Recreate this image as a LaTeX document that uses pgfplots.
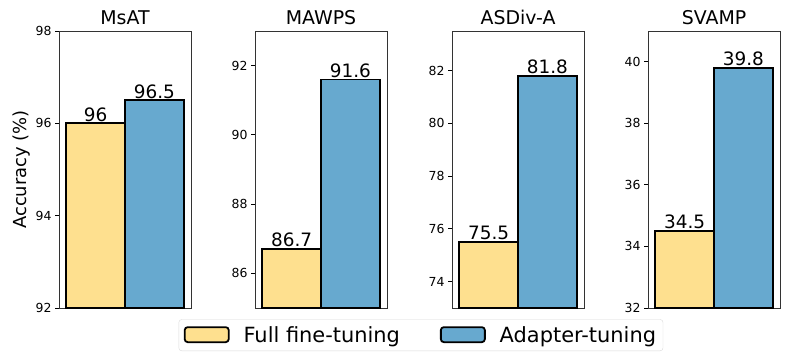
\documentclass[border=0pt]{standalone}
\usepackage{pgfplots}
\pgfplotsset{compat=1.18}
\usepackage{fontspec}
\setmainfont{DejaVu Sans}

\definecolor{fullft}{HTML}{FEE08F}
\definecolor{adapter}{HTML}{67A9CF}

\pgfplotsset{
  panel/.style={
    scale only axis,
    width=132bp, height=277bp,
    anchor=south west,
    xmin=-0.45, xmax=0.45,
    xtick=\empty,
    ybar, bar width=0.4, bar shift=0pt,
    tick align=outside,
    ytick pos=left,
    major tick length=4bp,
    axis line style={black!80, line width=0.8bp},
    tick style={black, line width=0.8bp},
    tick label style={font=\fontsize{12.5}{14}\selectfont},
    /pgf/number format/assume math mode=true,
    title style={font=\fontsize{19}{22}\selectfont, yshift=-3bp},
    point meta=explicit symbolic,
    nodes near coords,
    nodes near coords style={font=\fontsize{18.5}{20}\selectfont, inner sep=1bp},
    every axis plot/.append style={draw=black, line width=1.8bp},
  },
  lgbox/.style={
    legend image code/.code={
      \draw[##1, line width=1.8bp] (0bp,-7bp) rectangle (44bp,8bp);
    }
  },
}

\begin{document}
\begin{tikzpicture}[x=1bp,y=1bp]
\path[use as bounding box] (0,0) rectangle (789,362);

% MsAT
\begin{axis}[panel, at={(59bp,54bp)}, ymin=92, ymax=98, ytick={92,94,96,98},
  title={MsAT},
  ylabel={Accuracy (\%)}, ylabel style={font=\fontsize{18}{20}\selectfont, yshift=-1bp},
  legend columns=2,
  legend style={at={(2.742,-0.098)}, anchor=center, draw=black!15, rounded corners=3bp,
    font=\fontsize{21}{24}\selectfont, inner xsep=5bp, inner ysep=5bp,
    /tikz/every even column/.append style={column sep=38bp},
    /tikz/every odd column/.append style={column sep=12bp}},
  ]
\addplot[fill=fullft, lgbox] coordinates {(-0.2,96) [96]};
\addplot[fill=adapter, lgbox] coordinates {(0.2,96.5) [96.5]};
\legend{Full fine-tuning, Adapter-tuning}
\end{axis}

% MAWPS
\begin{axis}[panel, at={(255bp,54bp)}, ymin=85, ymax=93, ytick={86,88,90,92},
  title={MAWPS}]
\addplot[fill=fullft] coordinates {(-0.2,86.7) [86.7]};
\addplot[fill=adapter] coordinates {(0.2,91.6) [91.6]};
\end{axis}

% ASDiv-A
\begin{axis}[panel, at={(452bp,54bp)}, ymin=73, ymax=83.5, ytick={74,76,78,80,82},
  title={ASDiv-A}]
\addplot[fill=fullft] coordinates {(-0.2,75.5) [75.5]};
\addplot[fill=adapter] coordinates {(0.2,81.8) [81.8]};
\end{axis}

% SVAMP
\begin{axis}[panel, at={(648bp,54bp)}, ymin=32, ymax=41, ytick={32,34,36,38,40},
  title={SVAMP}]
\addplot[fill=fullft] coordinates {(-0.2,34.5) [34.5]};
\addplot[fill=adapter] coordinates {(0.2,39.8) [39.8]};
\end{axis}
\end{tikzpicture}
\end{document}
